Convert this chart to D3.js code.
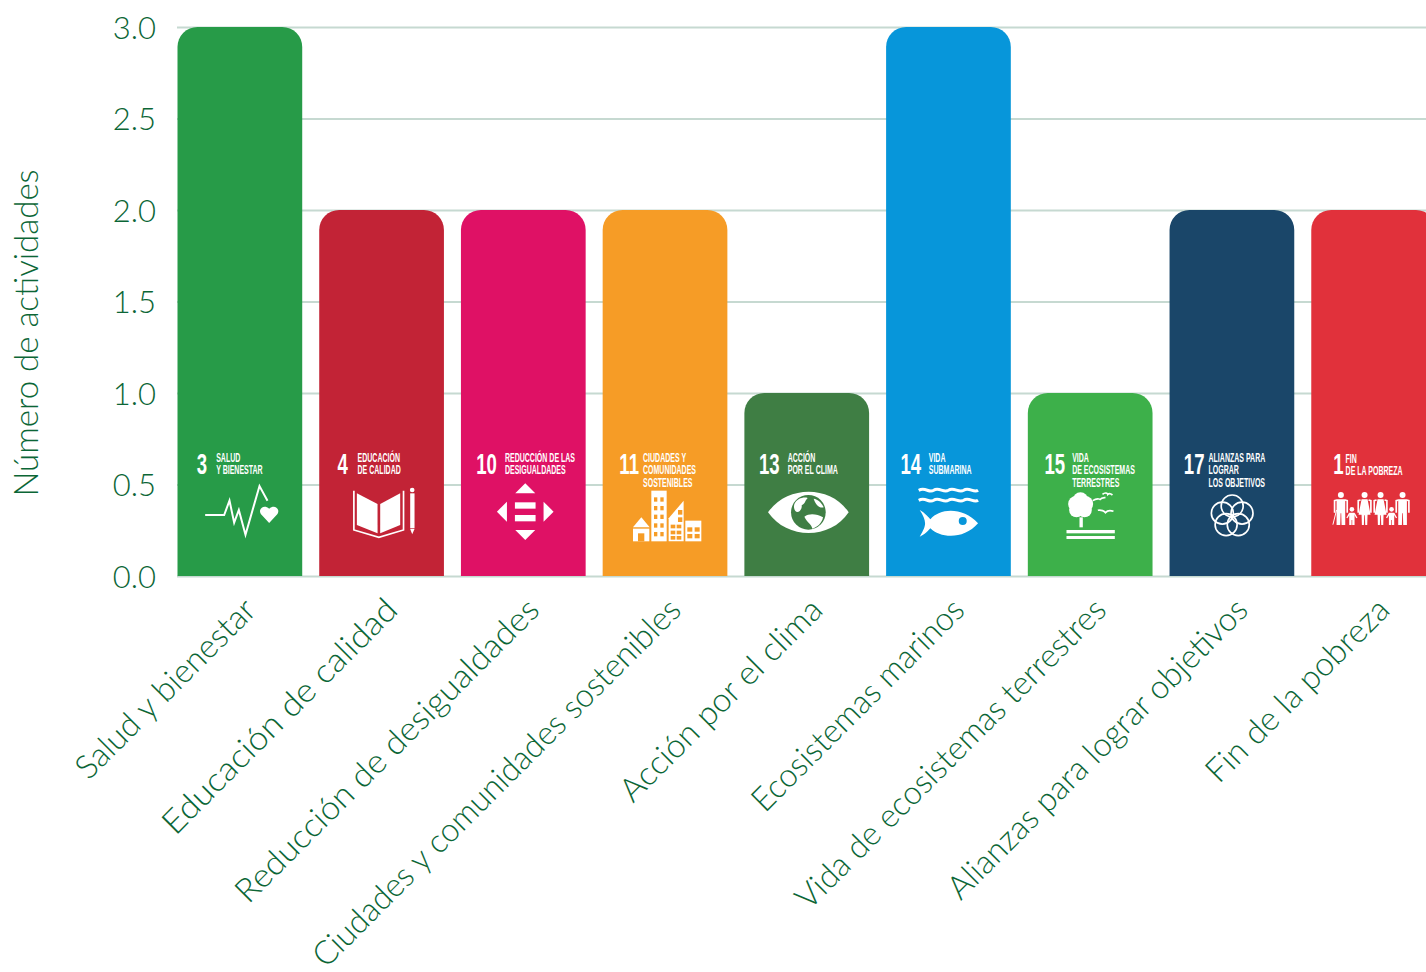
<!DOCTYPE html>
<meta charset="utf-8">
<style>
    body { margin: 0; background: #fff; overflow: hidden; }
    svg { display: block; }
    .tick text, .cat, .ylab { font-family: "Lato", sans-serif; font-weight: 300; fill: #0b6636; }
    .grid-axis .domain { display: none; }
    .grid-axis line { stroke: #c6d9d1; stroke-width: 2px; }
    .badge text { font-family: "Liberation Sans Narrow", "Liberation Sans", sans-serif; fill: #fff; }
</style>
<body>
    <svg width="1426" height="972"></svg>
    <script src="https://d3js.org/d3.v7.min.js"></script>
    <script>
        // values
        const categories = ["Salud y bienestar", "Educación de calidad", "Reducción de desigualdades",
            "Ciudades y comunidades sostenibles", "Acción por el clima", "Ecosistemas marinos",
            "Vida de ecosistemas terrestres", "Alianzas para lograr objetivos", "Fin de la pobreza"];
        const activities = [3, 2, 2, 2, 1, 3, 1, 2, 2];
        const barColors = ["#279b48", "#c22336", "#df1165", "#f69c26", "#3f7e44", "#0796da", "#3db04a", "#1a4669", "#e1313b"];
        const goalNumbers = ["3", "4", "10", "11", "13", "14", "15", "17", "1"];
        const goalTitles = [
            ["SALUD", "Y BIENESTAR"],
            ["EDUCACIÓN", "DE CALIDAD"],
            ["REDUCCIÓN DE LAS", "DESIGUALDADES"],
            ["CIUDADES Y", "COMUNIDADES", "SOSTENIBLES"],
            ["ACCIÓN", "POR EL CLIMA"],
            ["VIDA", "SUBMARINA"],
            ["VIDA", "DE ECOSISTEMAS", "TERRESTRES"],
            ["ALIANZAS PARA", "LOGRAR", "LOS OBJETIVOS"],
            ["FIN", "DE LA POBREZA"]
        ];
        const yTicks = [0, 0.5, 1, 1.5, 2, 2.5, 3];

        // icon helpers
        function poly(g, pts) {
            return g.append("polygon").attr("points", pts).attr("fill", "#fff");
        }
        function box(g, x0, y0, w, h, fill) {
            return g.append("rect").attr("x", x0).attr("y", y0).attr("width", w).attr("height", h).attr("fill", fill || "#fff");
        }
        function line(g, d, w) {
            return g.append("path").attr("d", d).attr("fill", "none").attr("stroke", "#fff").attr("stroke-width", w);
        }
        function blob(g, d, fill) {
            return g.append("path").attr("d", d).attr("fill", fill || "#fff");
        }
        function dot(g, cx, cy, r, fill) {
            return g.append("circle").attr("cx", cx).attr("cy", cy).attr("r", r).attr("fill", fill || "#fff");
        }
        function windows(g, xs, ys, w, h, fill) {
            xs.forEach(a => ys.forEach(b => box(g, a, b, w, h, fill)));
        }
        function adult(g, cx, dress) {
            dot(g, cx, 195, 9);
            line(g, `M${cx - 12},210 L${cx - 19},212 L${cx - 19},248`, 5);
            line(g, `M${cx + 12},210 L${cx + 19},212 L${cx + 19},248`, 5);
            if (dress) {
                blob(g, `M${cx - 9},208 L${cx + 9},208 L${cx + 18},254 L${cx + 9},254 L${cx + 8},285 L${cx + 2},285 L${cx + 1},256 L${cx - 1},256 L${cx - 2},285 L${cx - 8},285 L${cx - 9},254 L${cx - 18},254 Z`);
            } else {
                blob(g, `M${cx - 13},208 L${cx + 13},208 L${cx + 13},285 L${cx + 2},285 L${cx + 1},250 L${cx - 1},250 L${cx - 2},285 L${cx - 13},285 Z`);
            }
        }
        function child(g, cx) {
            dot(g, cx, 238, 7);
            line(g, `M${cx - 7},250 L${cx - 15},264`, 4);
            line(g, `M${cx + 7},250 L${cx + 15},264`, 4);
            blob(g, `M${cx - 8},248 L${cx + 8},248 L${cx + 8},285 L${cx + 1},285 L${cx + 1},270 L${cx - 1},270 L${cx - 1},285 L${cx - 8},285 Z`);
        }

        const icons = [
            function (g) { // salud
                line(g, "M105,255 L162,255 L178,212 L192,278 L206,240 L226,314 L268,168 L292,212", 6);
                blob(g, "M297,279 L272,252 C263,238 280,222 297,236 C314,222 331,238 322,252 Z");
            },
            function (g) { // educacion
                poly(g, "560,190 622,222 622,310 560,285");
                poly(g, "630,222 690,190 690,285 630,310");
                line(g, "M551,182 L551,300 L626,322 L700,300 L700,182", 5);
                box(g, 720, 190, 13, 105);
                poly(g, "720,297 733,297 726,313");
                dot(g, 726, 180, 7);
            },
            function (g) { // desigualdades
                poly(g, "1065,160 1035,190 1095,190");
                poly(g, "1035,300 1095,300 1065,330");
                poly(g, "1010,215 1010,275 980,245");
                poly(g, "1120,215 1120,275 1150,245");
                box(g, 1034, 217, 62, 19);
                box(g, 1034, 255, 62, 19);
            },
            function (g, c) { // ciudades
                poly(g, "98,292 123,262 148,292");
                box(g, 98, 296, 49, 38);
                box(g, 113, 310, 19, 24, c);
                box(g, 153, 182, 46, 152);
                windows(g, [161, 180], [202, 228, 254, 280, 306], 10, 13, c);
                poly(g, "205,265 250,212 250,334 205,334");
                windows(g, [211, 229], [284, 302, 318], 14, 11, c);
                windows(g, [233], [240, 262], 13, 14, c);
                box(g, 255, 272, 48, 62);
                windows(g, [261, 283], [292, 312], 15, 13, c);
            },
            function (g, c) { // clima
                blob(g, "M503,247 C560,165 690,165 745,247 C690,330 560,330 503,247 Z");
                dot(g, 624, 247, 52, c);
                blob(g, "M582,222 C590,205 610,200 622,204 C612,214 616,220 604,226 C606,240 592,252 585,243 C580,236 580,230 582,222 Z");
                blob(g, "M612,260 C628,248 650,252 668,262 C665,280 650,292 636,296 C634,282 620,278 612,260 Z");
                blob(g, "M640,206 C652,208 664,218 670,232 C658,236 646,226 640,206 Z");
            },
            function (g, c) { // marinos
                line(g, "M955,181 C975,170 985,190 1000,181 C1015,170 1030,190 1044,181 C1060,170 1075,190 1090,181 C1105,170 1120,190 1133,181", 9);
                line(g, "M955,211 C975,200 985,220 1000,211 C1015,200 1030,220 1044,211 C1060,200 1075,220 1090,211 C1105,200 1120,220 1133,211", 9);
                blob(g, "M958,240 C975,250 985,262 990,268 C1020,232 1090,232 1133,280 C1090,330 1020,325 990,295 C985,300 972,315 958,320 C970,300 974,290 974,280 C974,270 968,255 958,240 Z");
                dot(g, 1087, 273, 12, c);
            },
            function (g) { // terrestres
                dot(g, 180, 210, 23);
                dot(g, 167, 222, 24);
                dot(g, 194, 222, 24);
                dot(g, 168, 240, 22);
                dot(g, 192, 240, 22);
                box(g, 177, 262, 10, 30);
                box(g, 138, 300, 145, 10);
                box(g, 138, 318, 145, 9);
                line(g, "M217,212 C228,204 240,206 237,210 C242,204 248,202 255,203", 5);
                line(g, "M246,193 C254,186 262,190 262,193 C266,189 270,190 276,195", 5);
                line(g, "M232,241 C242,238 252,244 255,248 C260,242 268,240 279,244", 5);
            },
            function (g) { // alianzas
                d3.range(5).forEach(k => {
                    const a = -Math.PI / 2 + k * 2 * Math.PI / 5;
                    g.append("circle")
                        .attr("cx", 635 + 31 * Math.cos(a))
                        .attr("cy", 259 + 31 * Math.sin(a))
                        .attr("r", 33)
                        .attr("fill", "none")
                        .attr("stroke", "#fff")
                        .attr("stroke-width", 5);
                });
            },
            function (g) { // pobreza
                adult(g, 961, false);
                line(g, "M948,240 L937,284", 3);
                child(g, 994);
                adult(g, 1032, true);
                adult(g, 1080, true);
                child(g, 1113);
                adult(g, 1146, false);
            }
        ];

        const svg = d3.select("svg");

        const x = d3.scaleBand()
            .domain(categories)
            .range([169, 169 + 9 * 141.72])
            .paddingInner(0.12)
            .paddingOuter(0.06);

        const y = d3.scaleLinear().domain([0, 3]).range([576, 27]);

        svg.append("g")
            .attr("class", "grid-axis")
            .attr("transform", "translate(177,0)")
            .call(d3.axisLeft(y).tickValues(yTicks).tickFormat(d3.format(".1f")).tickSize(-1249).tickPadding(21))
            .selectAll("text")
            .style("font-size", "31px")
            .attr("dy", "0.37em");

        svg.append("text")
            .attr("class", "ylab")
            .attr("transform", "translate(38,333) rotate(-90)")
            .attr("text-anchor", "middle")
            .style("font-size", "33px")
            .text("Número de actividades");

        const radius = 20;
        function barPath(d, i) {
            const x0 = x(categories[i]), x1 = x0 + x.bandwidth(), top = y(d), bottom = y(0);
            const p = d3.path();
            p.moveTo(x0, bottom);
            p.lineTo(x0, top + radius);
            p.arcTo(x0, top, x0 + radius, top, radius);
            p.lineTo(x1 - radius, top);
            p.arcTo(x1, top, x1, top + radius, radius);
            p.lineTo(x1, bottom);
            p.closePath();
            return p.toString();
        }

        svg.selectAll("path.bar")
            .data(activities)
            .enter().append("path")
            .attr("class", "bar")
            .attr("d", barPath)
            .attr("fill", (d, i) => barColors[i]);

        // rotated labels, squeezed to the lengths they have in the picture
        const labelLengths = [239, 317, 414, 505, 271, 285, 423, 409, 244];

        svg.selectAll("text.cat")
            .data(categories)
            .enter().append("text")
            .attr("class", "cat")
            .attr("text-anchor", "end")
            .attr("transform", d => "translate(" + (x(d) + x.bandwidth() / 2 + 18) + ",612) rotate(-45)")
            .attr("textLength", (d, i) => labelLengths[i])
            .attr("lengthAdjust", "spacingAndGlyphs")
            .style("font-size", "33px")
            .text(d => d);

        // SDG badges, drawn at 3x inside each bar (origin = left/top of the badge crop)
        const badgeOffset = [22, 447, 872, 7, 432, 857, 22, 447, 872];
        const numberX = [80, 502, 918, 57, 476, 900, 72, 490, 938];
        const titleX = [138, 562, 1004, 128, 562, 985, 155, 564, 975];

        const badges = svg.selectAll("g.badge")
            .data(categories)
            .enter().append("g")
            .attr("class", "badge")
            .attr("transform", (d, i) => "translate(" + (x(d) - badgeOffset[i] / 3) + "," + (y(0) - 146) + ") scale(0.3333)");

        badges.each(function (d, i) {
            const g = d3.select(this);
            const shift = i === 8 ? 4 : 0;
            g.append("text")
                .attr("transform", "translate(" + numberX[i] + ",133) scale(0.62,1)")
                .style("font-size", "90px")
                .style("font-weight", "bold")
                .text(goalNumbers[i]);
            goalTitles[i].forEach((t, k) => {
                g.append("text")
                    .attr("transform", "translate(" + titleX[i] + "," + (95 + shift + k * 37.5) + ") scale(0.54,1)")
                    .style("font-size", "39px")
                    .style("font-weight", "bold")
                    .text(t);
            });
            icons[i](g, barColors[i]);
        });
    </script>
</body>
